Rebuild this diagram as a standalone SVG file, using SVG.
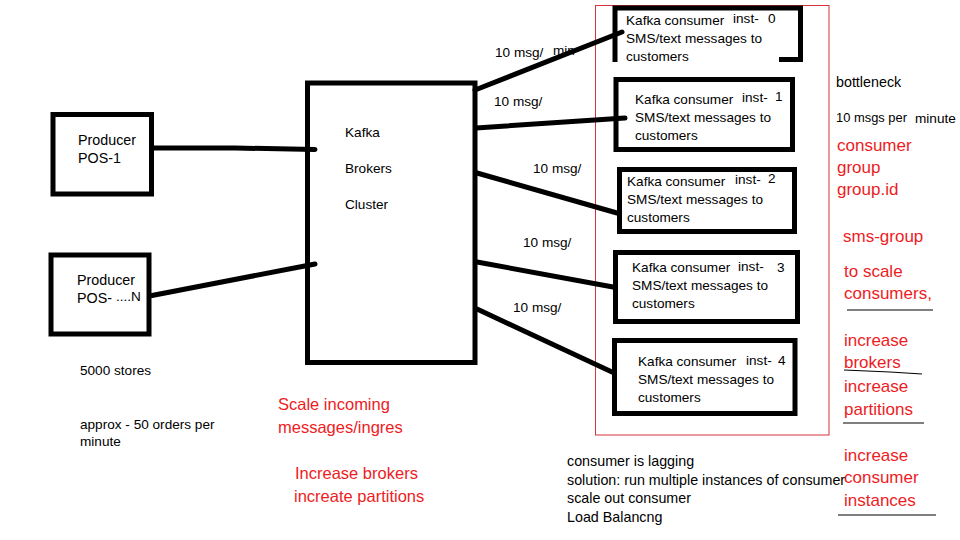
<svg xmlns="http://www.w3.org/2000/svg" width="960" height="540" viewBox="0 0 960 540">
<style>
.t{font-family:"Liberation Sans",Arial,sans-serif;font-size:13.6px;fill:#000}
.b{font-family:"Liberation Sans",Arial,sans-serif;font-size:14.3px;fill:#000}
.r{font-family:"Liberation Sans",Arial,sans-serif;font-size:17px;fill:#ED1C24}
.rs{font-family:"Liberation Sans",Arial,sans-serif;font-size:16.5px;fill:#ED1C24}
.box{fill:none;stroke:#000;stroke-width:5}
.ln{fill:none;stroke:#000;stroke-width:5;stroke-linecap:round}
.ul{fill:none;stroke:#000;stroke-width:1.2}
</style>
<rect width="960" height="540" fill="#fff"/>
<rect x="595.5" y="5.5" width="233.5" height="429.5" fill="none" stroke="#d8323c" stroke-width="1"/>

<g id="labels">
<text class="t" x="495" y="57">10 msg/</text>
<text class="t" x="553" y="55">min</text>
<text class="t" x="494" y="106">10 msg/</text>
<text class="t" x="533" y="173">10 msg/</text>
<text class="t" x="523" y="247">10 msg/</text>
<text class="t" x="513" y="312">10 msg/</text>
</g>

<g id="connectors">
<polyline class="ln" points="154,148 235,148 315,149.5"/>
<line class="ln" x1="152" y1="295.5" x2="315" y2="264"/>
<line class="ln" x1="475" y1="90" x2="622" y2="32" stroke-width="6"/>
<line class="ln" x1="476" y1="128" x2="625" y2="118"/>
<line class="ln" x1="477" y1="173" x2="617" y2="213"/>
<line class="ln" x1="477" y1="262" x2="613" y2="287"/>
<line class="ln" x1="477" y1="309" x2="612" y2="372"/>
</g>

<g id="producer-1">
<rect class="box" x="53" y="114.5" width="98.5" height="79.5"/>
<text class="b" x="78" y="145">Producer</text>
<text class="b" x="78" y="163">POS-1</text>
</g>

<g id="producer-n">
<rect class="box" x="51" y="255" width="98" height="79"/>
<text class="b" x="77" y="285">Producer</text>
<text class="b" x="77" y="303">POS-</text>
<text class="t" x="116" y="301">....N</text>
</g>

<g id="brokers">
<rect class="box" x="307.5" y="83" width="167.5" height="279.5"/>
<text class="t" x="345" y="137">Kafka</text>
<text class="t" x="345" y="173">Brokers</text>
<text class="t" x="345" y="209">Cluster</text>
</g>

<g id="consumer-0">
<path class="box" d="M615,62 V8 H800.5 V62 M779,59.5 H803"/>
<text class="t" x="626" y="25">Kafka consumer</text>
<text class="t" x="733" y="23">inst-</text>
<text class="t" x="768" y="23">0</text>
<text class="t" x="626" y="43">SMS/text messages to</text>
<text class="t" x="626" y="61">customers</text>
</g>

<g id="consumer-1">
<rect class="box" x="616" y="79.5" width="176.5" height="70"/>
<text class="t" x="635" y="104">Kafka consumer</text>
<text class="t" x="742" y="102">inst-</text>
<text class="t" x="775" y="101">1</text>
<text class="t" x="635" y="122">SMS/text messages to</text>
<text class="t" x="635" y="140">customers</text>
</g>

<g id="consumer-2">
<rect class="box" x="619.5" y="169.5" width="175" height="62"/>
<text class="t" x="627" y="186">Kafka consumer</text>
<text class="t" x="735" y="184">inst-</text>
<text class="t" x="768" y="183">2</text>
<text class="t" x="627" y="204">SMS/text messages to</text>
<text class="t" x="627" y="222">customers</text>
</g>

<g id="consumer-3">
<rect class="box" x="615.5" y="252.5" width="182" height="69"/>
<text class="t" x="632" y="272">Kafka consumer</text>
<text class="t" x="738" y="271">inst-</text>
<text class="t" x="777" y="272">3</text>
<text class="t" x="632" y="290">SMS/text messages to</text>
<text class="t" x="632" y="308">customers</text>
</g>

<g id="consumer-4">
<rect class="box" x="614.5" y="340.5" width="180.5" height="73"/>
<text class="t" x="638" y="366">Kafka consumer</text>
<text class="t" x="746" y="365">inst-</text>
<text class="t" x="778" y="365">4</text>
<text class="t" x="638" y="384">SMS/text messages to</text>
<text class="t" x="638" y="402">customers</text>
</g>

<g id="notes-right">
<text class="b" x="836" y="87">bottleneck</text>
<text class="t" x="836" y="122" textLength="71" lengthAdjust="spacingAndGlyphs">10 msgs per</text>
<text class="t" x="915" y="123">minute</text>
<text class="r" x="837" y="151">consumer</text>
<text class="r" x="837" y="173">group</text>
<text class="r" x="837" y="195">group.id</text>
<text class="r" x="843" y="242">sms-group</text>
<text class="r" x="844" y="277">to scale</text>
<text class="r" x="844" y="299">consumers,</text>
<line class="ul" x1="847" y1="310" x2="933" y2="310"/>
<text class="r" x="844" y="346">increase</text>
<text class="r" x="844" y="368">brokers</text>
<polyline class="ul" points="844,370 890,372 922,374"/>
<text class="r" x="844" y="392">increase</text>
<text class="r" x="844" y="415">partitions</text>
<line class="ul" x1="843" y1="423" x2="924" y2="423"/>
<text class="r" x="844" y="461">increase</text>
<text class="r" x="844" y="483">consumer</text>
<text class="r" x="844" y="506">instances</text>
<line class="ul" x1="838" y1="515" x2="936" y2="515"/>
</g>

<g id="notes-left">
<text class="t" x="80" y="375">5000 stores</text>
<text class="t" x="80" y="429">approx - 50 orders per</text>
<text class="t" x="80" y="446">minute</text>
<text class="rs" x="278" y="410">Scale incoming</text>
<text class="rs" x="278" y="433">messages/ingres</text>
<text class="rs" x="295" y="479">Increase brokers</text>
<text class="rs" x="294" y="502">increate partitions</text>
</g>

<g id="notes-bottom">
<text class="b" x="567" y="466">consumer is lagging</text>
<text class="b" x="567" y="485">solution: run multiple instances of consumer</text>
<text class="b" x="567" y="503">scale out consumer</text>
<text class="b" x="567" y="522">Load Balancng</text>
</g>
</svg>
